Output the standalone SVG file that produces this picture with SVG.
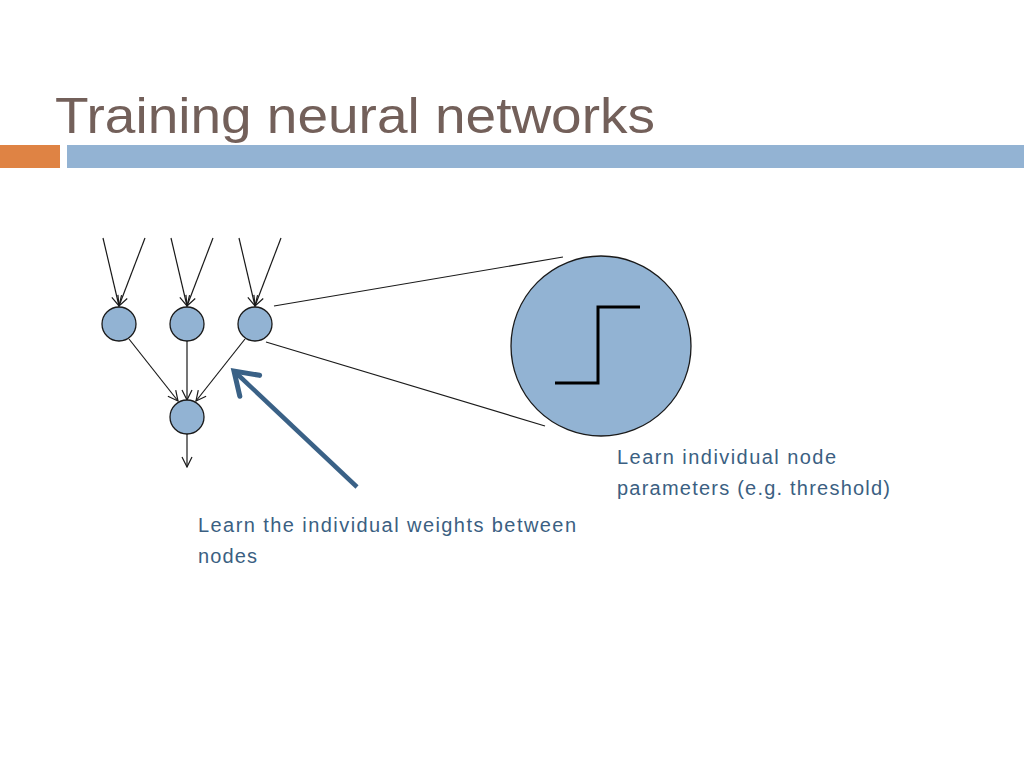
<svg xmlns="http://www.w3.org/2000/svg" width="1024" height="768" viewBox="0 0 1024 768">
<defs>
<style>
.node{fill:#92b3d3;stroke:#1a1a1a;stroke-width:1.3}
.edge{stroke:#1a1a1a;stroke-width:1.2;fill:none}
.lbl{font-family:"Century Gothic","Liberation Sans",sans-serif;font-size:20px;fill:#3b5f82}
</style>
<marker id="ah" viewBox="0 0 12 12" refX="11" refY="6" markerWidth="12" markerHeight="12" markerUnits="userSpaceOnUse" orient="auto">
<path d="M1,1 L11,6 L1,11" fill="none" stroke="#1a1a1a" stroke-width="1.2"/>
</marker>
<marker id="big" viewBox="0 0 10 10" refX="8" refY="5" markerWidth="8" markerHeight="8" orient="auto">
<path d="M2,1 L8,5 L2,9" fill="none" stroke="#3a6186" stroke-width="1.4" stroke-linecap="round"/>
</marker>
</defs>
<rect width="1024" height="768" fill="#ffffff"/>
<text x="55" y="133" font-family="'Century Gothic','Liberation Sans',sans-serif" font-size="50" fill="#73605a" textLength="600" lengthAdjust="spacingAndGlyphs">Training neural networks</text>
<rect x="0" y="145" width="60" height="23" fill="#df8344"/>
<rect x="67" y="145" width="957" height="23" fill="#93b3d3"/>
<g id="connectors">
<line class="edge" x1="103" y1="238" x2="119" y2="306" marker-end="url(#ah)"/>
<line class="edge" x1="145" y1="238" x2="119" y2="306" marker-end="url(#ah)"/>
<line class="edge" x1="171" y1="238" x2="187" y2="306" marker-end="url(#ah)"/>
<line class="edge" x1="213" y1="238" x2="187" y2="306" marker-end="url(#ah)"/>
<line class="edge" x1="239" y1="238" x2="255" y2="306" marker-end="url(#ah)"/>
<line class="edge" x1="281" y1="238" x2="255" y2="306" marker-end="url(#ah)"/>
<line class="edge" x1="129" y1="339" x2="178" y2="401" marker-end="url(#ah)"/>
<line class="edge" x1="187" y1="341" x2="187" y2="400" marker-end="url(#ah)"/>
<line class="edge" x1="245" y1="339" x2="196" y2="401" marker-end="url(#ah)"/>
<line class="edge" x1="187" y1="434" x2="187" y2="467" marker-end="url(#ah)"/>
<line class="edge" x1="274" y1="306" x2="563" y2="257"/>
<line class="edge" x1="266" y1="342" x2="545" y2="426"/>
<line x1="357" y1="487" x2="234" y2="371" stroke="#3a6186" stroke-width="4.5" marker-end="url(#big)"/>
</g>
<g id="n1"><circle class="node" cx="119" cy="324" r="17"/></g>
<g id="n2"><circle class="node" cx="187" cy="324" r="17"/></g>
<g id="n3"><circle class="node" cx="255" cy="324" r="17"/></g>
<g id="n4"><circle class="node" cx="187" cy="417" r="17"/></g>
<g id="zoom">
<circle class="node" cx="601" cy="346" r="90"/>
<polyline points="555,383 598,383 598,307 640,307" fill="none" stroke="#000" stroke-width="3"/>
</g>
<g id="label-weights">
<text class="lbl" x="198" y="532" textLength="378" lengthAdjust="spacing">Learn the individual weights between</text>
<text class="lbl" x="198" y="563" textLength="59" lengthAdjust="spacing">nodes</text>
</g>
<g id="label-params">
<text class="lbl" x="617" y="464" textLength="219" lengthAdjust="spacing">Learn individual node</text>
<text class="lbl" x="617" y="495" textLength="273" lengthAdjust="spacing">parameters (e.g. threshold)</text>
</g>
</svg>
